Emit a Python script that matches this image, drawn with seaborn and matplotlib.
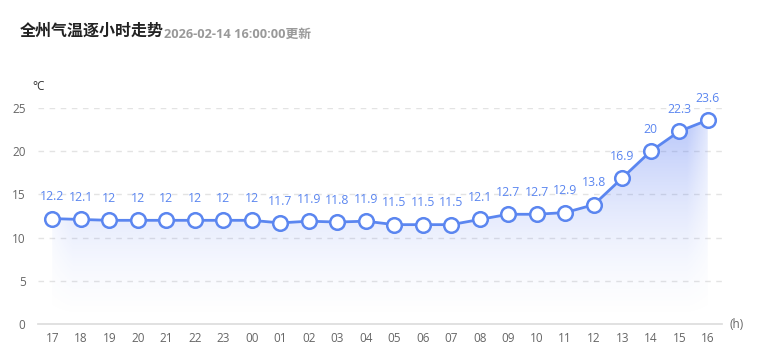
import numpy as np
import pandas as pd
import matplotlib
matplotlib.use("Agg")
import matplotlib.pyplot as plt
import seaborn as sns

hours = ['17', '18', '19', '20', '21', '22', '23', '00', '01', '02', '03', '04',
         '05', '06', '07', '08', '09', '10', '11', '12', '13', '14', '15', '16']
temps = [12.2, 12.1, 12, 12, 12, 12, 12, 12, 11.7, 11.9, 11.8, 11.9,
         11.5, 11.5, 11.5, 12.1, 12.7, 12.7, 12.9, 13.8, 16.9, 20, 22.3, 23.6]
y_ticks = [0, 5, 10, 15, 20, 25]

df = pd.DataFrame({'hour': hours, 'temp': temps})
df['pos'] = range(len(df))

sns.set_theme(style='white')
plt.rcParams['font.family'] = ['Open Sans', 'Noto Sans CJK SC', 'DejaVu Sans']

blue = '#5b86f0'
fig = plt.figure(figsize=(7.61, 3.61), dpi=100)
ax = fig.add_axes([38 / 761, 1 - 324 / 361, (722 - 38) / 761, (324 - 108) / 361])

# gradient area under the line
poly = ax.fill_between(df['pos'], df['temp'], 0, color='none', lw=0)
ny, nx = 200, 400
yy = np.linspace(1, 0, ny)[:, None]
xx = np.linspace(-0.5, len(df) - 0.5, nx)[None, :]
edge = np.clip(np.minimum(xx - (-0.2), (len(df) - 0.8) - xx) / 0.9, 0, 1)
alpha = (yy ** 1.6) * 0.45 * (0.3 + 0.7 * edge)
rgba = np.zeros((ny, nx, 4))
rgba[..., 0] = 0.33
rgba[..., 1] = 0.47
rgba[..., 2] = 0.95
rgba[..., 3] = alpha
img = ax.imshow(rgba, extent=[-0.5, len(df) - 0.5, 0, 25], aspect='auto',
                origin='upper', zorder=1)
img.set_clip_path(poly.get_paths()[0], transform=ax.transData)

sns.lineplot(data=df, x='pos', y='temp', ax=ax, color=blue, lw=2,
             marker='o', markersize=10.5, markerfacecolor='white',
             markeredgecolor=blue, markeredgewidth=1.8, zorder=3, clip_on=False)

for p, t in zip(df['pos'], df['temp']):
    ax.annotate(f'{t:g}', (p, t), xytext=(0, 11), textcoords='offset points',
                ha='center', va='bottom', fontsize=8.8, color=blue)

ax.set_xlim(-0.5, len(df) - 0.5)
ax.set_ylim(0, 25)
ax.set_xticks(df['pos'])
ax.set_xticklabels(hours)
ax.set_yticks(y_ticks)
ax.tick_params(axis='both', length=0, labelsize=8.5, labelcolor='#666666', pad=6)
ax.tick_params(axis='y', pad=9)
for y in y_ticks[1:]:
    ax.axhline(y, color='#e3e3e3', lw=1, ls=(0, (4, 4)), zorder=0)
for s in ['top', 'right', 'left']:
    ax.spines[s].set_visible(False)
ax.spines['bottom'].set_color('#dddddd')
ax.set_xlabel('')
ax.set_ylabel('')

fig.text(32 / 761, 1 - 86 / 361, '°C', fontsize=8.5, color='#333333',
         ha='left', va='center')
fig.text(730 / 761, 1 - 324 / 361, '(h)', fontsize=8.5, color='#666666',
         ha='left', va='center')
fig.text(20 / 761, 1 - 32 / 361, '全州气温逐小时走势', fontsize=11.5,
         fontweight='bold', color='#222222', ha='left', va='center')
fig.text(164 / 761, 1 - 34 / 361, '2026-02-14 16:00:00更新', fontsize=9.2,
         fontweight='bold', color='#999999', ha='left', va='center')

fig.savefig('out.png', dpi=100)
